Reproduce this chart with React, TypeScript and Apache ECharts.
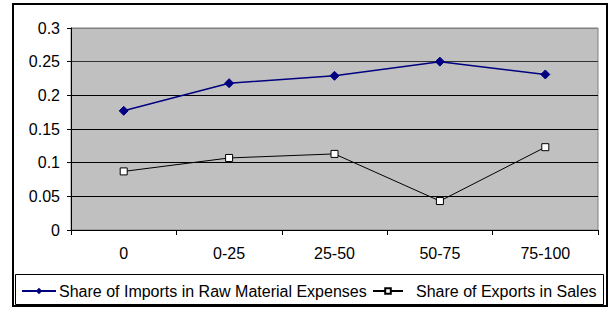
import React, { useEffect, useRef } from "react";
import * as echarts from "echarts";

const categories = ["0", "0-25", "25-50", "50-75", "75-100"];
const importsShare = [0.177, 0.218, 0.229, 0.25, 0.231];
const exportsShare = [0.087, 0.107, 0.113, 0.043, 0.123];
const seriesNames = [
  "Share of Imports in Raw Material Expenses",
  "Share of Exports in Sales",
];

const FONT = "Liberation Sans";

export default function App() {
  const ref = useRef<HTMLDivElement>(null);
  useEffect(() => {
    if (!ref.current) return;
    const chart = echarts.init(ref.current, undefined, { renderer: "svg" });
    chart.setOption({
      animation: false,
      backgroundColor: "#ffffff",
      textStyle: { fontFamily: FONT },
      grid: {
        left: 71,
        top: 28,
        right: 13,
        bottom: 82,
        show: true,
        backgroundColor: "#C0C0C0",
        borderColor: "#808080",
        borderWidth: 1,
      },
      xAxis: {
        type: "category",
        data: categories,
        boundaryGap: true,
        axisLine: { show: true, lineStyle: { color: "#000", width: 1 } },
        axisTick: { show: true, interval: 0, length: 5, lineStyle: { color: "#000" } },
        axisLabel: { color: "#000", fontSize: 16, fontFamily: FONT, margin: 15, interval: 0 },
        splitLine: { show: false },
      },
      yAxis: {
        type: "value",
        min: 0,
        max: 0.3,
        interval: 0.05,
        axisLine: { show: true, lineStyle: { color: "#000", width: 1 } },
        axisTick: { show: true, length: 4, lineStyle: { color: "#000" } },
        axisLabel: { color: "#000", fontSize: 16, fontFamily: FONT, margin: 11 },
        splitLine: {
          show: true,
          lineStyle: {
            color: ["#000", "#000", "#000", "#000", "#000", "#333", "#808080"],
            width: 1,
          },
        },
      },
      legend: [
        {
          data: [seriesNames[0]],
          left: 21,
          top: 283,
          itemWidth: 34,
          itemHeight: 8,
          itemGap: 0,
          padding: 0,
          textStyle: { color: "#000", fontSize: 16, fontFamily: FONT, padding: [0, 0, 0, -2] },
        },
        {
          data: [seriesNames[1]],
          left: 372,
          top: 283,
          itemWidth: 30,
          itemHeight: 7,
          itemGap: 0,
          padding: 0,
          textStyle: { color: "#000", fontSize: 16, fontFamily: FONT, padding: [0, 0, 0, 8] },
        },
      ],
      graphic: [
        {
          type: "rect",
          shape: { x: 13, y: 4, width: 594, height: 302 },
          style: { fill: "none", stroke: "#000", lineWidth: 2 },
          silent: true,
        },
        {
          type: "rect",
          shape: { x: 15.5, y: 274.5, width: 588, height: 30 },
          style: { fill: "none", stroke: "#000", lineWidth: 1 },
          silent: true,
        },
      ],
      series: [
        {
          name: seriesNames[0],
          type: "line",
          data: importsShare,
          symbol: "diamond",
          symbolSize: 9,
          lineStyle: { color: "#000080", width: 1.5 },
          itemStyle: { color: "#000080", borderColor: "#000080" },
        },
        {
          name: seriesNames[1],
          type: "line",
          data: exportsShare,
          symbol: "rect",
          symbolSize: 7,
          lineStyle: { color: "#000", width: 1 },
          itemStyle: { color: "#fff", borderColor: "#000", borderWidth: 1 },
        },
      ],
    });
    return () => chart.dispose();
  }, []);
  return (
    <div
      ref={ref}
      style={{ position: "absolute", left: 0, top: 0, width: 611, height: 312 }}
    />
  );
}
